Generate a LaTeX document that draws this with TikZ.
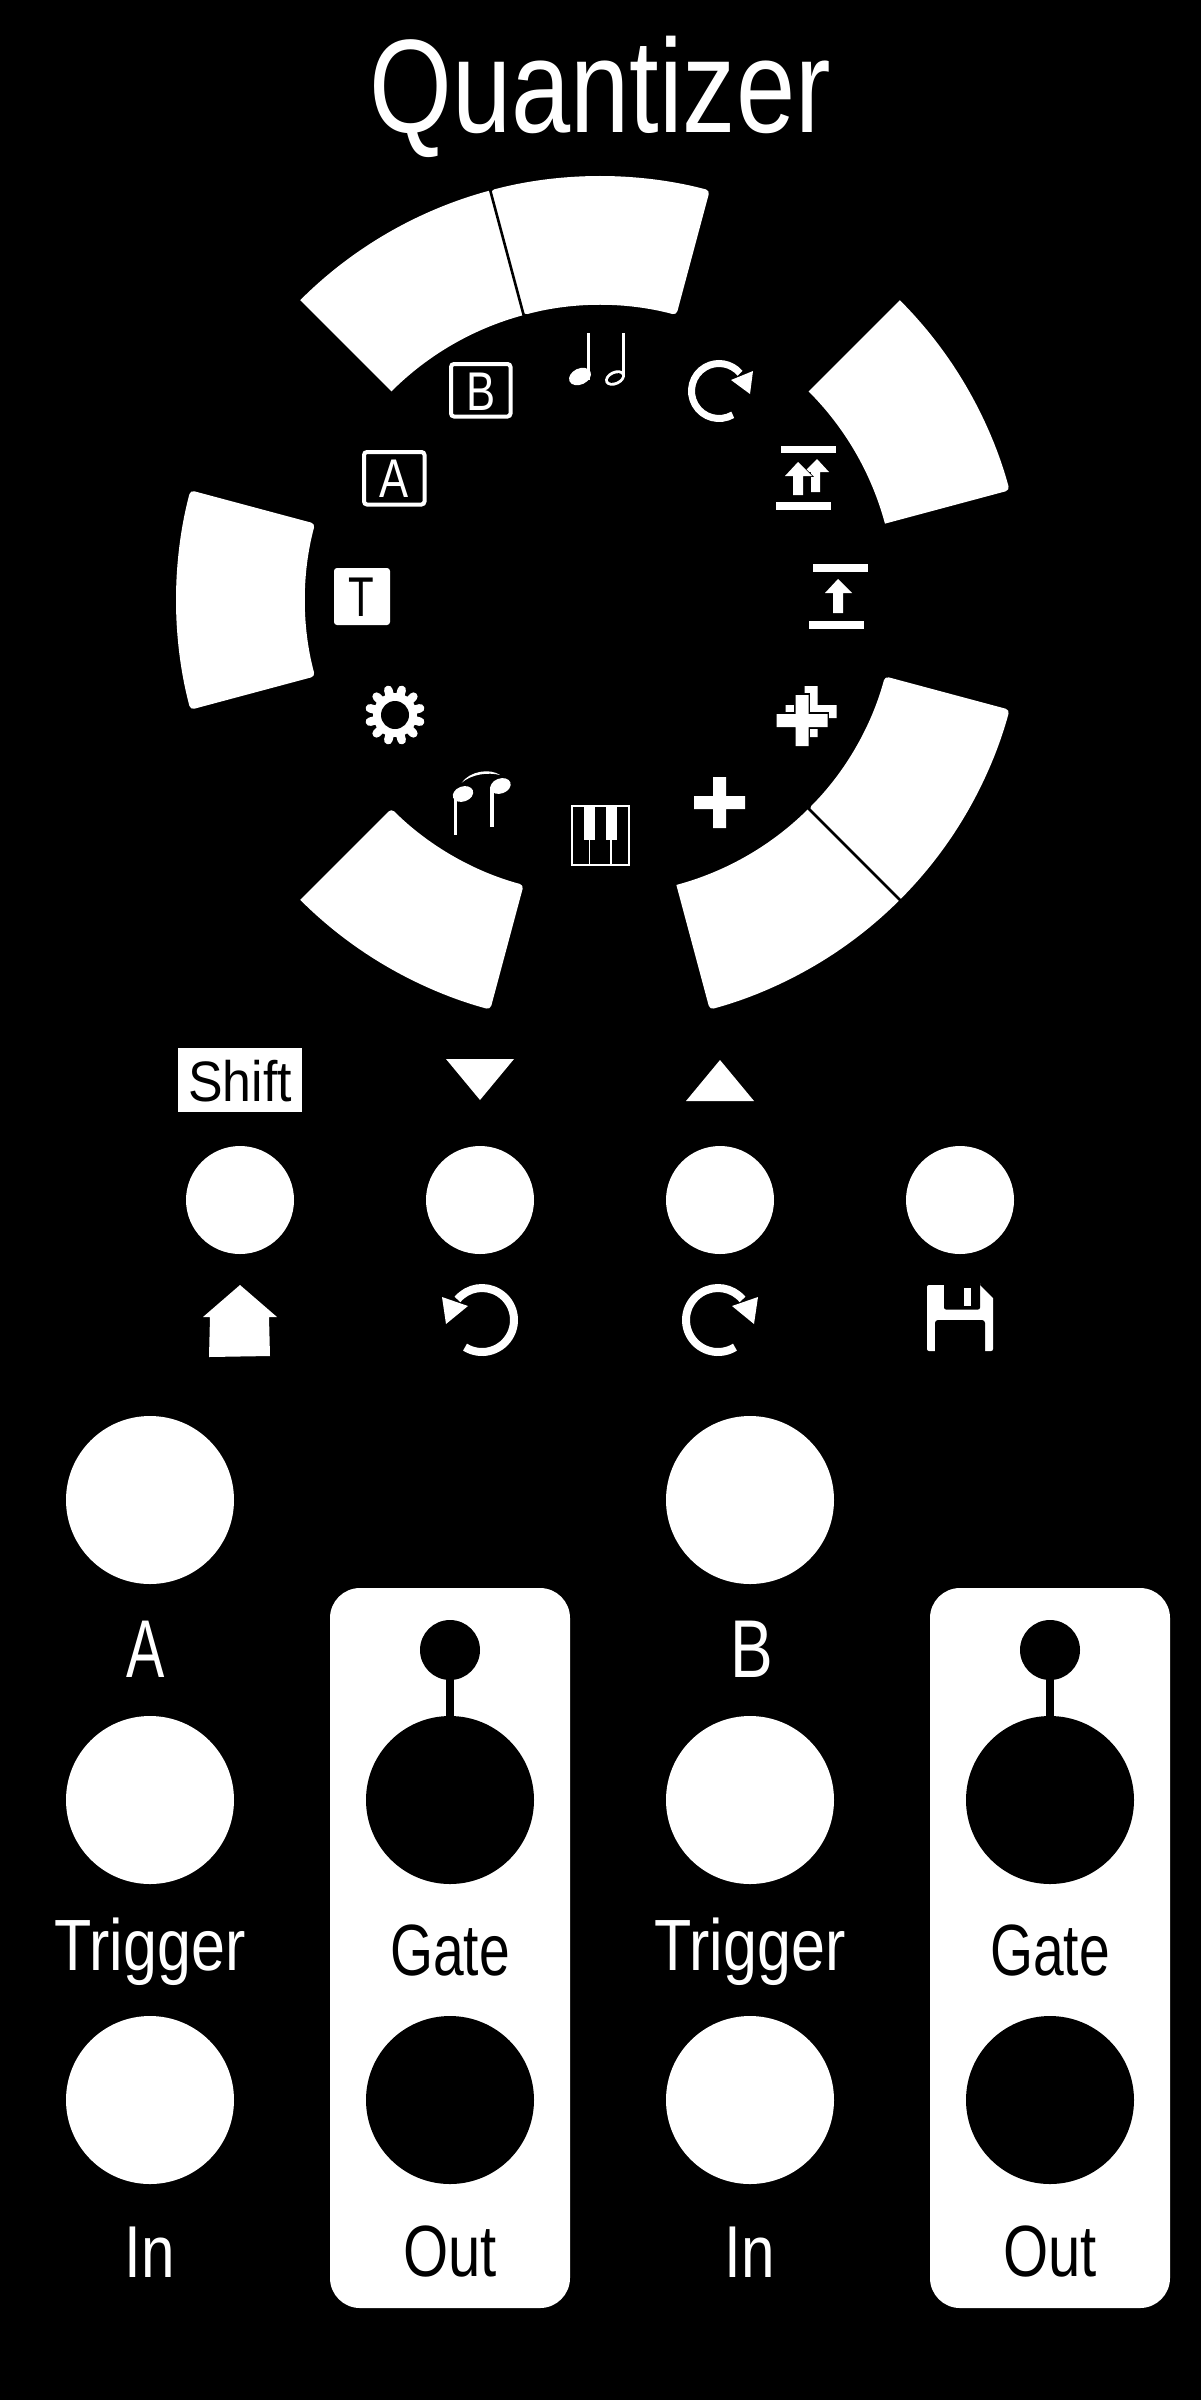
\documentclass[tikz,border=0pt]{standalone}
\usepackage{fontspec}
\setmainfont{Liberation Sans}
\usetikzlibrary{calc}
\tikzset{
  lbl/.style={inner sep=0pt,outer sep=0pt,anchor=base},
  whitejack/.style={circle,fill=white,draw=none,minimum size=168pt,inner sep=0pt},
  blackjack/.style={circle,fill=black,draw=none,minimum size=168pt,inner sep=0pt},
  knob/.style={circle,fill=black,draw=none,minimum size=60pt,inner sep=0pt},
  pushbtn/.style={circle,fill=white,draw=none,minimum size=108pt,inner sep=0pt},
  outbox/.style={fill=white,rounded corners=30pt},
  iconbox/.style={draw=white,line width=4pt,rounded corners=3pt},
  sep/.style={draw=black,line width=2.6pt},
  loop/.style={draw=white,line cap=butt},
}
\newcommand{\panellabel}[7]{\node[lbl,text=#6] (#1) at (#2,#3) {\fontsize{#4pt}{#4pt}\selectfont\scalebox{#5}[1]{#7}};}
% visual angles a1<a2; r1,r2 corner radii at a1 and a2 ends
\newcommand{\ringseg}[4]{%
  \pgfmathsetmacro{\segmid}{-(#1+#2)/2}%
  \fill[white] (\segmid:424) [rounded corners=#4pt] arc[start angle=\segmid,end angle=-#2,radius=424]
    -- (-#2:295) arc[start angle=-#2,end angle=-#1,radius=295]
    [rounded corners=#3pt] -- (-#1:424) arc[start angle=-#1,end angle=\segmid,radius=424];}
\newcommand{\pluspath}[4]{% cx cy half-long half-thick
  ({#1-#4},{#2-#3}) -- ({#1+#4},{#2-#3}) -- ({#1+#4},{#2-#4}) -- ({#1+#3},{#2-#4}) -- ({#1+#3},{#2+#4}) -- ({#1+#4},{#2+#4}) -- ({#1+#4},{#2+#3}) -- ({#1-#4},{#2+#3}) -- ({#1-#4},{#2+#4}) -- ({#1-#3},{#2+#4}) -- ({#1-#3},{#2-#4}) -- ({#1-#4},{#2-#4}) -- cycle}
\begin{document}
\begin{tikzpicture}[x=1pt,y=1pt,yscale=-1]
\useasboundingbox (0,0) rectangle (1200,2400);
\fill[black] (-6,-6) rectangle (1206,2406);

\panellabel{title}{600}{133}{133}{0.8}{white}{Quantizer}

% ring
\begin{scope}[shift={(600,600)}]
  \ringseg{75}{105}{4}{4}
  \ringseg{105}{135}{1}{0.01}
  \ringseg{15}{45}{4}{0.01}
  \ringseg{165}{195}{4}{4}
  \ringseg{225}{255}{0.01}{4}
  \ringseg{285}{315}{4}{0.01}
  \ringseg{315}{345}{0.01}{4}
  \draw[sep] (-105:291) -- (-105:427);
  \draw[sep] (-315:291) -- (-315:427);
\end{scope}

% notes
\fill[white] (587,333) rectangle (590.3,380);
\fill[white] (580,376.5) circle[x radius=11.5,y radius=8,rotate=-25];
\fill[white] (622,333) rectangle (625,376);
\fill[white] (615,378) circle[x radius=10.5,y radius=7,rotate=-25];
\fill[black] (615,378) circle[x radius=7.5,y radius=4,rotate=-25];

% cw loop
\draw[loop,line width=7pt] (719,391) ++(60:27.5) arc[start angle=60,end angle=320,radius=27.5];
\fill[white] (753,371) -- (731,380) -- (750,394) -- cycle;

% double arrow
\fill[white] (781,446) rectangle (836,453);
\fill[white] (776,502) rectangle (831,510);
\fill[white] (817,459) -- (829,472) -- (820,472) -- (820,492) -- (811,492) -- (811,472) -- (804,472) -- cycle;
\draw[black,line width=1.5pt] (798,462) -- (812,476) -- (803,476) -- (803,495) -- (793,495) -- (793,476) -- (785,476) -- cycle;
\fill[white] (798,462) -- (812,476) -- (803,476) -- (803,495) -- (793,495) -- (793,476) -- (785,476) -- cycle;

% single arrow
\fill[white] (813,564) rectangle (868,572);
\fill[white] (809,621) rectangle (864,629);
\fill[white] (838,579) -- (852,593) -- (843,593) -- (843,613) -- (833,613) -- (833,593) -- (825,593) -- cycle;

% plus icons
\fill[white] \pluspath{811}{711.5}{25.5}{6.5};
\draw[black,line width=3.5pt] \pluspath{802}{720.5}{25.5}{6.5};
\fill[white] \pluspath{802}{720.5}{25.5}{6.5};
\fill[white] \pluspath{719.5}{802.5}{25.5}{6.5};

% boxes
\draw[iconbox] (364,452) rectangle (424.5,504.5);
\panellabel{letterA}{394}{497}{54.5}{0.8}{white}{A}
\draw[iconbox] (451,364) rectangle (510.5,416.5);
\panellabel{letterB}{481}{410}{54.5}{0.8}{white}{B}
\fill[white,rounded corners=3pt] (334,568) rectangle (390,625);
\panellabel{letterT}{361}{616}{56}{0.75}{black}{T}

% gear
\fill[white] (395,715) circle[radius=22];
\foreach \a in {15,45,...,345}{
  \draw[white,line width=8.5pt,line cap=round] (395,715) ++(\a:18) -- ++(\a:8);
}
\fill[black] (395,715) circle[radius=14];

% beamed notes
\fill[white] (453.5,793) rectangle (457,835);
\fill[white] (463,794) circle[x radius=10.5,y radius=7.5,rotate=-20];
\fill[white] (490,787) rectangle (494,827);
\fill[white] (500.5,786) circle[x radius=10.5,y radius=7.5,rotate=-20];
\fill[white] (461.7,782.7) .. controls (470,771) and (490,768) .. (500,775) .. controls (488,772) and (472,774) .. cycle;

% keyboard
\draw[white,line width=2pt] (572,806) rectangle (629,864.5);
\fill[white] (584,806) rectangle (595,840);
\fill[white] (606,806) rectangle (616.5,840);
\draw[white,line width=1.6pt] (589.5,840) -- (589.5,864);
\draw[white,line width=1.6pt] (611,840) -- (611,864);

% shift row
\fill[white] (178,1048) rectangle (302,1112);
\panellabel{shift}{240}{1101.5}{57}{0.91}{black}{Shift}
\fill[white] (446,1059) -- (514,1059) -- (480,1100) -- cycle;
\fill[white] (720,1060) -- (754,1101) -- (686,1101) -- cycle;
\node[pushbtn] (btnA) at (240,1200) {};
\node[pushbtn] (btnB) at (480,1200) {};
\node[pushbtn] (btnC) at (720,1200) {};
\node[pushbtn] (btnD) at (960,1200) {};

% home
\fill[white] (240,1285) -- (277,1317) -- (269,1317) -- (270,1356) -- (209,1357) -- (210,1317) -- (203,1317) -- cycle;

% ccw / cw
\draw[loop,line width=8pt] (482,1320) ++(122:32) arc[start angle=122,end angle=-140,radius=32];
\fill[white] (442,1297) -- (468,1306) -- (446,1324) -- cycle;
\draw[loop,line width=8pt] (718,1320) ++(58:32) arc[start angle=58,end angle=320,radius=32];
\fill[white] (758,1297) -- (732,1306) -- (754,1324) -- cycle;

% floppy
\fill[white,rounded corners=2pt] (927,1285) -- (980,1285) [sharp corners] -- (980,1285) -- (993,1298) [rounded corners=2pt] -- (993,1351) -- (927,1351) -- cycle;
\fill[black,rounded corners=2pt] (944,1280) -- (944,1309.5) -- (980,1309.5) -- (980,1280) -- cycle;
\fill[black,rounded corners=3pt] (935,1356) -- (935,1320) -- (985,1320) -- (985,1356) -- cycle;
\fill[white] (964,1287.5) rectangle (971,1305.5);

% left column
\node[whitejack] (jackA) at (150,1500) {};
\node[whitejack] (trigA) at (150,1800) {};
\node[whitejack] (inA) at (150,2100) {};
\panellabel{lblA}{146}{1677}{82}{0.7}{white}{A}
\panellabel{lblTrigA}{150}{1970}{72.6}{0.84}{white}{Trigger}
\panellabel{lblInA}{150}{2277}{73.5}{0.82}{white}{In}

\node[whitejack] (jackB) at (750,1500) {};
\node[whitejack] (trigB) at (750,1800) {};
\node[whitejack] (inB) at (750,2100) {};
\panellabel{lblB}{752}{1677}{82}{0.78}{white}{B}
\panellabel{lblTrigB}{750}{1970}{72.6}{0.84}{white}{Trigger}
\panellabel{lblInB}{750}{2277}{73.5}{0.82}{white}{In}

% output boxes
\fill[outbox] (330,1588) rectangle (570,2308);
\node[knob] (knobA) at (450,1650) {};
\node[blackjack] (gateA) at (450,1800) {};
\node[blackjack] (outA) at (450,2100) {};
\draw[black,line width=8.5pt] (knobA) -- (gateA);
\panellabel{lblGateA}{450}{1975}{72.6}{0.76}{black}{Gate}
\panellabel{lblOutA}{450}{2276}{72.6}{0.8}{black}{Out}

\fill[outbox] (930,1588) rectangle (1170,2308);
\node[knob] (knobB) at (1050,1650) {};
\node[blackjack] (gateB) at (1050,1800) {};
\node[blackjack] (outB) at (1050,2100) {};
\draw[black,line width=8.5pt] (knobB) -- (gateB);
\panellabel{lblGateB}{1050}{1975}{72.6}{0.76}{black}{Gate}
\panellabel{lblOutB}{1050}{2276}{72.6}{0.8}{black}{Out}
\end{tikzpicture}
\end{document}
